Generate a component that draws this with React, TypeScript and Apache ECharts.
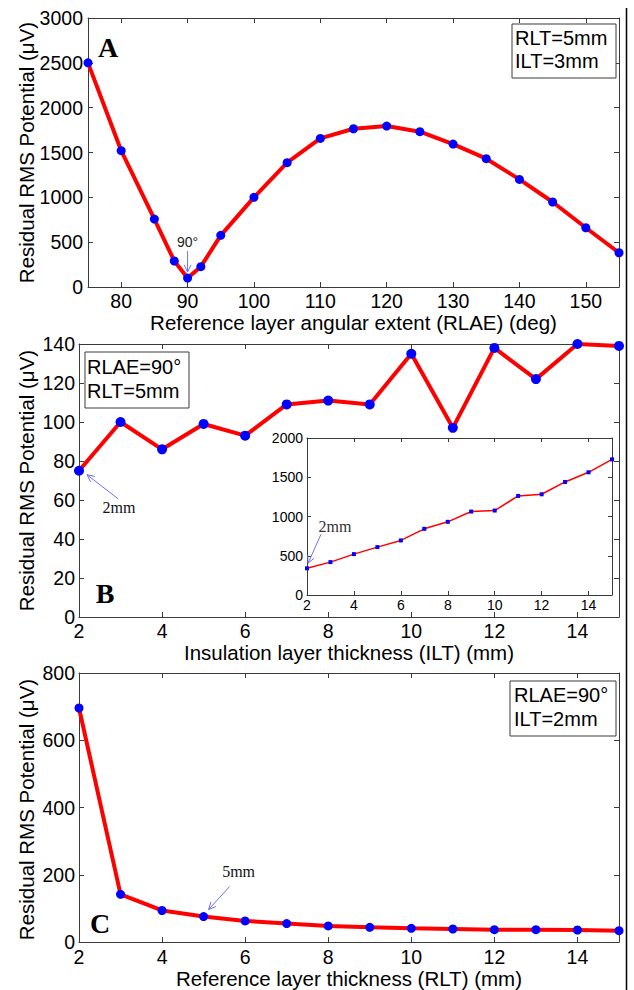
import React, { useEffect, useRef } from "react";
import * as echarts from "echarts";

// ---- Data ----
const anglesA = [75, 80, 85, 88, 90, 92, 95, 100, 105, 110, 115, 120, 125, 130, 135, 140, 145, 150, 155];
const potentialA = [2500, 1520, 758, 290, 100, 227, 576, 1000, 1386, 1657, 1765, 1795, 1732, 1594, 1431, 1200, 948, 661, 382];
const ticksA = [80, 90, 100, 110, 120, 130, 140, 150];

const iltB = [2, 3, 4, 5, 6, 7, 8, 9, 10, 11, 12, 13, 14, 15];
const potentialB = [75, 100, 86, 99, 93, 109, 111, 109, 135, 97, 138, 122, 140, 139];
const potentialInset = [340, 419, 521, 610, 695, 843, 932, 1063, 1076, 1262, 1283, 1440, 1563, 1728];

const rltC = [2, 3, 4, 5, 6, 7, 8, 9, 10, 11, 12, 13, 14, 15];
const potentialC = [696, 142, 94, 76, 63, 55, 48, 44, 41, 39, 37, 37, 36, 34];

const legendA = ["RLT=5mm", "ILT=3mm"];
const legendB = ["RLAE=90°", "RLT=5mm"];
const legendC = ["RLAE=90°", "ILT=2mm"];

const yTitle = "Residual RMS Potential (\u03bcV)";
const xTitleA = "Reference layer angular extent (RLAE) (deg)";
const xTitleB = "Insulation layer thickness (ILT) (mm)";
const xTitleC = "Reference layer thickness (RLT) (mm)";

const SANS = '"Liberation Sans", Arial, sans-serif';
const SERIF = '"Liberation Serif", "Times New Roman", serif';
const AXIS_COLOR = "#3a3a3a";
const ARROW_COLOR = "#6f6fff";

function zip(xs: number[], ys: number[]) {
  return xs.map((x, i) => [x, ys[i]]);
}

const plain = (v: number) => String(v);

export default function App() {
  const ref = useRef<HTMLDivElement>(null);

  useEffect(() => {
    if (!ref.current) return;
    const chart = echarts.init(ref.current, null, { renderer: "svg" });

    const grids = [
      { left: 88, top: 18, width: 531, height: 269 },
      { left: 79, top: 344, width: 540, height: 273 },
      { left: 307, top: 438, width: 305, height: 157, show: true, backgroundColor: "#fff", borderWidth: 0 },
      { left: 79, top: 673, width: 540, height: 273 },
    ];

    const lineStyle = { color: AXIS_COLOR, width: 1 };

    const mkX = (gi: number, o: any) => {
      const base: any = {
        type: "value",
        gridIndex: gi,
        min: o.min,
        max: o.max,
        splitLine: { show: false },
        axisLine: { show: true, onZero: false, lineStyle },
        axisTick: { show: true, inside: true, length: o.tick, lineStyle },
      };
      if (o.interval) base.interval = o.interval;
      if (o.custom) base.axisTick.customValues = o.custom;
      const bottom = {
        ...base,
        position: "bottom",
        axisLabel: {
          show: true,
          color: "#000",
          fontFamily: SANS,
          fontSize: o.fs,
          margin: o.margin,
          formatter: plain,
          ...(o.custom ? { customValues: o.custom } : {}),
          showMinLabel: true,
          showMaxLabel: o.showMax,
        },
        name: o.name || "",
        nameLocation: "middle",
        nameGap: o.nameGap || 0,
        nameTextStyle: { color: "#000", fontFamily: SANS, fontSize: 20.5 },
      };
      const top = { ...base, position: "top", axisLabel: { show: false } };
      return [bottom, top];
    };

    const mkY = (gi: number, o: any) => {
      const base: any = {
        type: "value",
        gridIndex: gi,
        min: o.min,
        max: o.max,
        interval: o.interval,
        splitLine: { show: false },
        axisLine: { show: true, onZero: false, lineStyle },
        axisTick: { show: true, inside: true, length: o.tick, lineStyle },
      };
      const left = {
        ...base,
        position: "left",
        axisLabel: { show: true, color: "#000", fontFamily: SANS, fontSize: o.fs, margin: o.margin, formatter: plain },
      };
      const right = { ...base, position: "right", axisLabel: { show: false } };
      return [left, right];
    };

    const xAxis = [
      ...mkX(0, { min: 75, max: 155, custom: ticksA, fs: 19.5, margin: 4, tick: 5, name: xTitleA, nameGap: 20, showMax: true }),
      ...mkX(1, { min: 2, max: 15, interval: 2, fs: 19.5, margin: 4, tick: 5, name: xTitleB, nameGap: 23, showMax: false }),
      ...mkX(2, { min: 2, max: 15, interval: 2, fs: 14, margin: 3, tick: 4, showMax: false }),
      ...mkX(3, { min: 2, max: 15, interval: 2, fs: 19.5, margin: 5, tick: 5, name: xTitleC, nameGap: 21, showMax: false }),
    ];
    const yAxis = [
      ...mkY(0, { min: 0, max: 3000, interval: 500, fs: 19.5, margin: 5, tick: 5 }),
      ...mkY(1, { min: 0, max: 140, interval: 20, fs: 19.5, margin: 4, tick: 5 }),
      ...mkY(2, { min: 0, max: 2000, interval: 500, fs: 14, margin: 4, tick: 4 }),
      ...mkY(3, { min: 0, max: 800, interval: 200, fs: 19.5, margin: 4, tick: 5 }),
    ];

    const mainSeries = (axisIdx: number, data: number[][], size: number) => ({
      type: "line",
      xAxisIndex: axisIdx,
      yAxisIndex: axisIdx,
      data,
      symbol: "circle",
      symbolSize: size,
      showSymbol: true,
      clip: false,
      itemStyle: { color: "#0000ff" },
      lineStyle: { color: "#ff0000", width: 4 },
      emphasis: { disabled: true },
      silent: true,
    });

    const series: any[] = [
      mainSeries(0, zip(anglesA, potentialA), 9),
      mainSeries(2, zip(iltB, potentialB), 10),
      {
        type: "line",
        xAxisIndex: 4,
        yAxisIndex: 4,
        data: zip(iltB, potentialInset),
        symbol: "rect",
        symbolSize: 4,
        clip: false,
        itemStyle: { color: "#0000ff" },
        lineStyle: { color: "#ff0000", width: 1.5 },
        emphasis: { disabled: true },
        silent: true,
        z: 5,
      },
      mainSeries(6, zip(rltC, potentialC), 9),
    ];

    chart.setOption({
      animation: false,
      backgroundColor: "#fff",
      grid: grids,
      xAxis,
      yAxis,
      series,
    });

    // ---- Annotations positioned from data coordinates ----
    const px = (axisIdx: number, pt: number[]) =>
      chart.convertToPixel({ xAxisIndex: axisIdx, yAxisIndex: axisIdx }, pt) as number[];

    const arrow = (x1: number, y1: number, x2: number, y2: number) => {
      const ang = Math.atan2(y2 - y1, x2 - x1);
      const L = 8;
      const spread = 0.45;
      const a1 = [x2 - L * Math.cos(ang - spread), y2 - L * Math.sin(ang - spread)];
      const a2 = [x2 - L * Math.cos(ang + spread), y2 - L * Math.sin(ang + spread)];
      return [
        { type: "line", shape: { x1, y1, x2, y2 }, style: { stroke: ARROW_COLOR, lineWidth: 1 }, z: 20, silent: true },
        { type: "polyline", shape: { points: [a1, [x2, y2], a2] }, style: { stroke: ARROW_COLOR, lineWidth: 1, fill: null }, z: 20, silent: true },
      ];
    };

    const label = (text: string, x: number, y: number, font: string, size: number, opts: any = {}) => ({
      type: "text",
      x,
      y,
      z: 20,
      rotation: opts.rotation || 0,
      silent: true,
      style: {
        text,
        fill: opts.fill || "#000",
        font: `${opts.weight || "normal"} ${size}px ${font}`,
        align: opts.align || "center",
        verticalAlign: "middle",
      },
    });

    const legendBox = (lines: string[], x: number, y: number, w: number, h: number, tx: number, ty: number[]) => [
      { type: "rect", shape: { x, y, width: w, height: h }, style: { fill: "#fff", stroke: AXIS_COLOR, lineWidth: 1 }, z: 15, silent: true },
      ...lines.map((t, i) => label(t, tx, ty[i], SANS, 20, { align: "left" })),
    ];

    const yTitleFor = (gi: number) => {
      const g = grids[gi];
      return label(yTitle, 26, g.top + g.height / 2, SANS, 20.5, { rotation: Math.PI / 2 });
    };

    const pA = px(0, [90, 100]);
    const pB = px(2, [2, potentialB[0]]);
    const pI = px(4, [2, potentialInset[0]]);
    const pC = px(6, [5, potentialC[3]]);

    const graphic: any[] = [
      { type: "line", shape: { x1: 626.5, y1: 8, x2: 626.5, y2: 990 }, style: { stroke: "#000", lineWidth: 1.5 }, silent: true },
      yTitleFor(0),
      yTitleFor(1),
      yTitleFor(3),
      label("A", 108, 47, SERIF, 28, { weight: "bold" }),
      label("B", 105, 593, SERIF, 28, { weight: "bold" }),
      label("C", 100, 923, SERIF, 28, { weight: "bold" }),
      ...legendBox(legendA, 512, 24, 104, 54, 515, [38, 61]),
      ...legendBox(legendB, 85, 352, 104, 56, 87, [367, 391]),
      ...legendBox(legendC, 510, 681, 106, 55, 514, [695, 719]),
      label("90°", pA[0], pA[1] - 36, SANS, 14, { fill: "#222" }),
      ...arrow(pA[0], pA[1] - 27, pA[0], pA[1] - 6),
      label("2mm", pB[0] + 40, pB[1] + 37, SERIF, 16, { fill: "#111" }),
      ...arrow(pB[0] + 39, pB[1] + 28, pB[0] + 8, pB[1] + 4),
      label("2mm", pI[0] + 28, pI[1] - 42, SERIF, 16, { fill: "#333" }),
      ...arrow(pI[0] + 14, pI[1] - 34, pI[0] + 1, pI[1] - 5),
      label("5mm", pC[0] + 35, pC[1] - 45, SERIF, 16, { fill: "#111" }),
      ...arrow(pC[0] + 26, pC[1] - 30, pC[0] + 5, pC[1] - 7),
    ];

    chart.setOption({ graphic });

    return () => chart.dispose();
  }, []);

  return <div ref={ref} style={{ position: "absolute", left: 0, top: 0, width: 634, height: 990 }} />;
}
